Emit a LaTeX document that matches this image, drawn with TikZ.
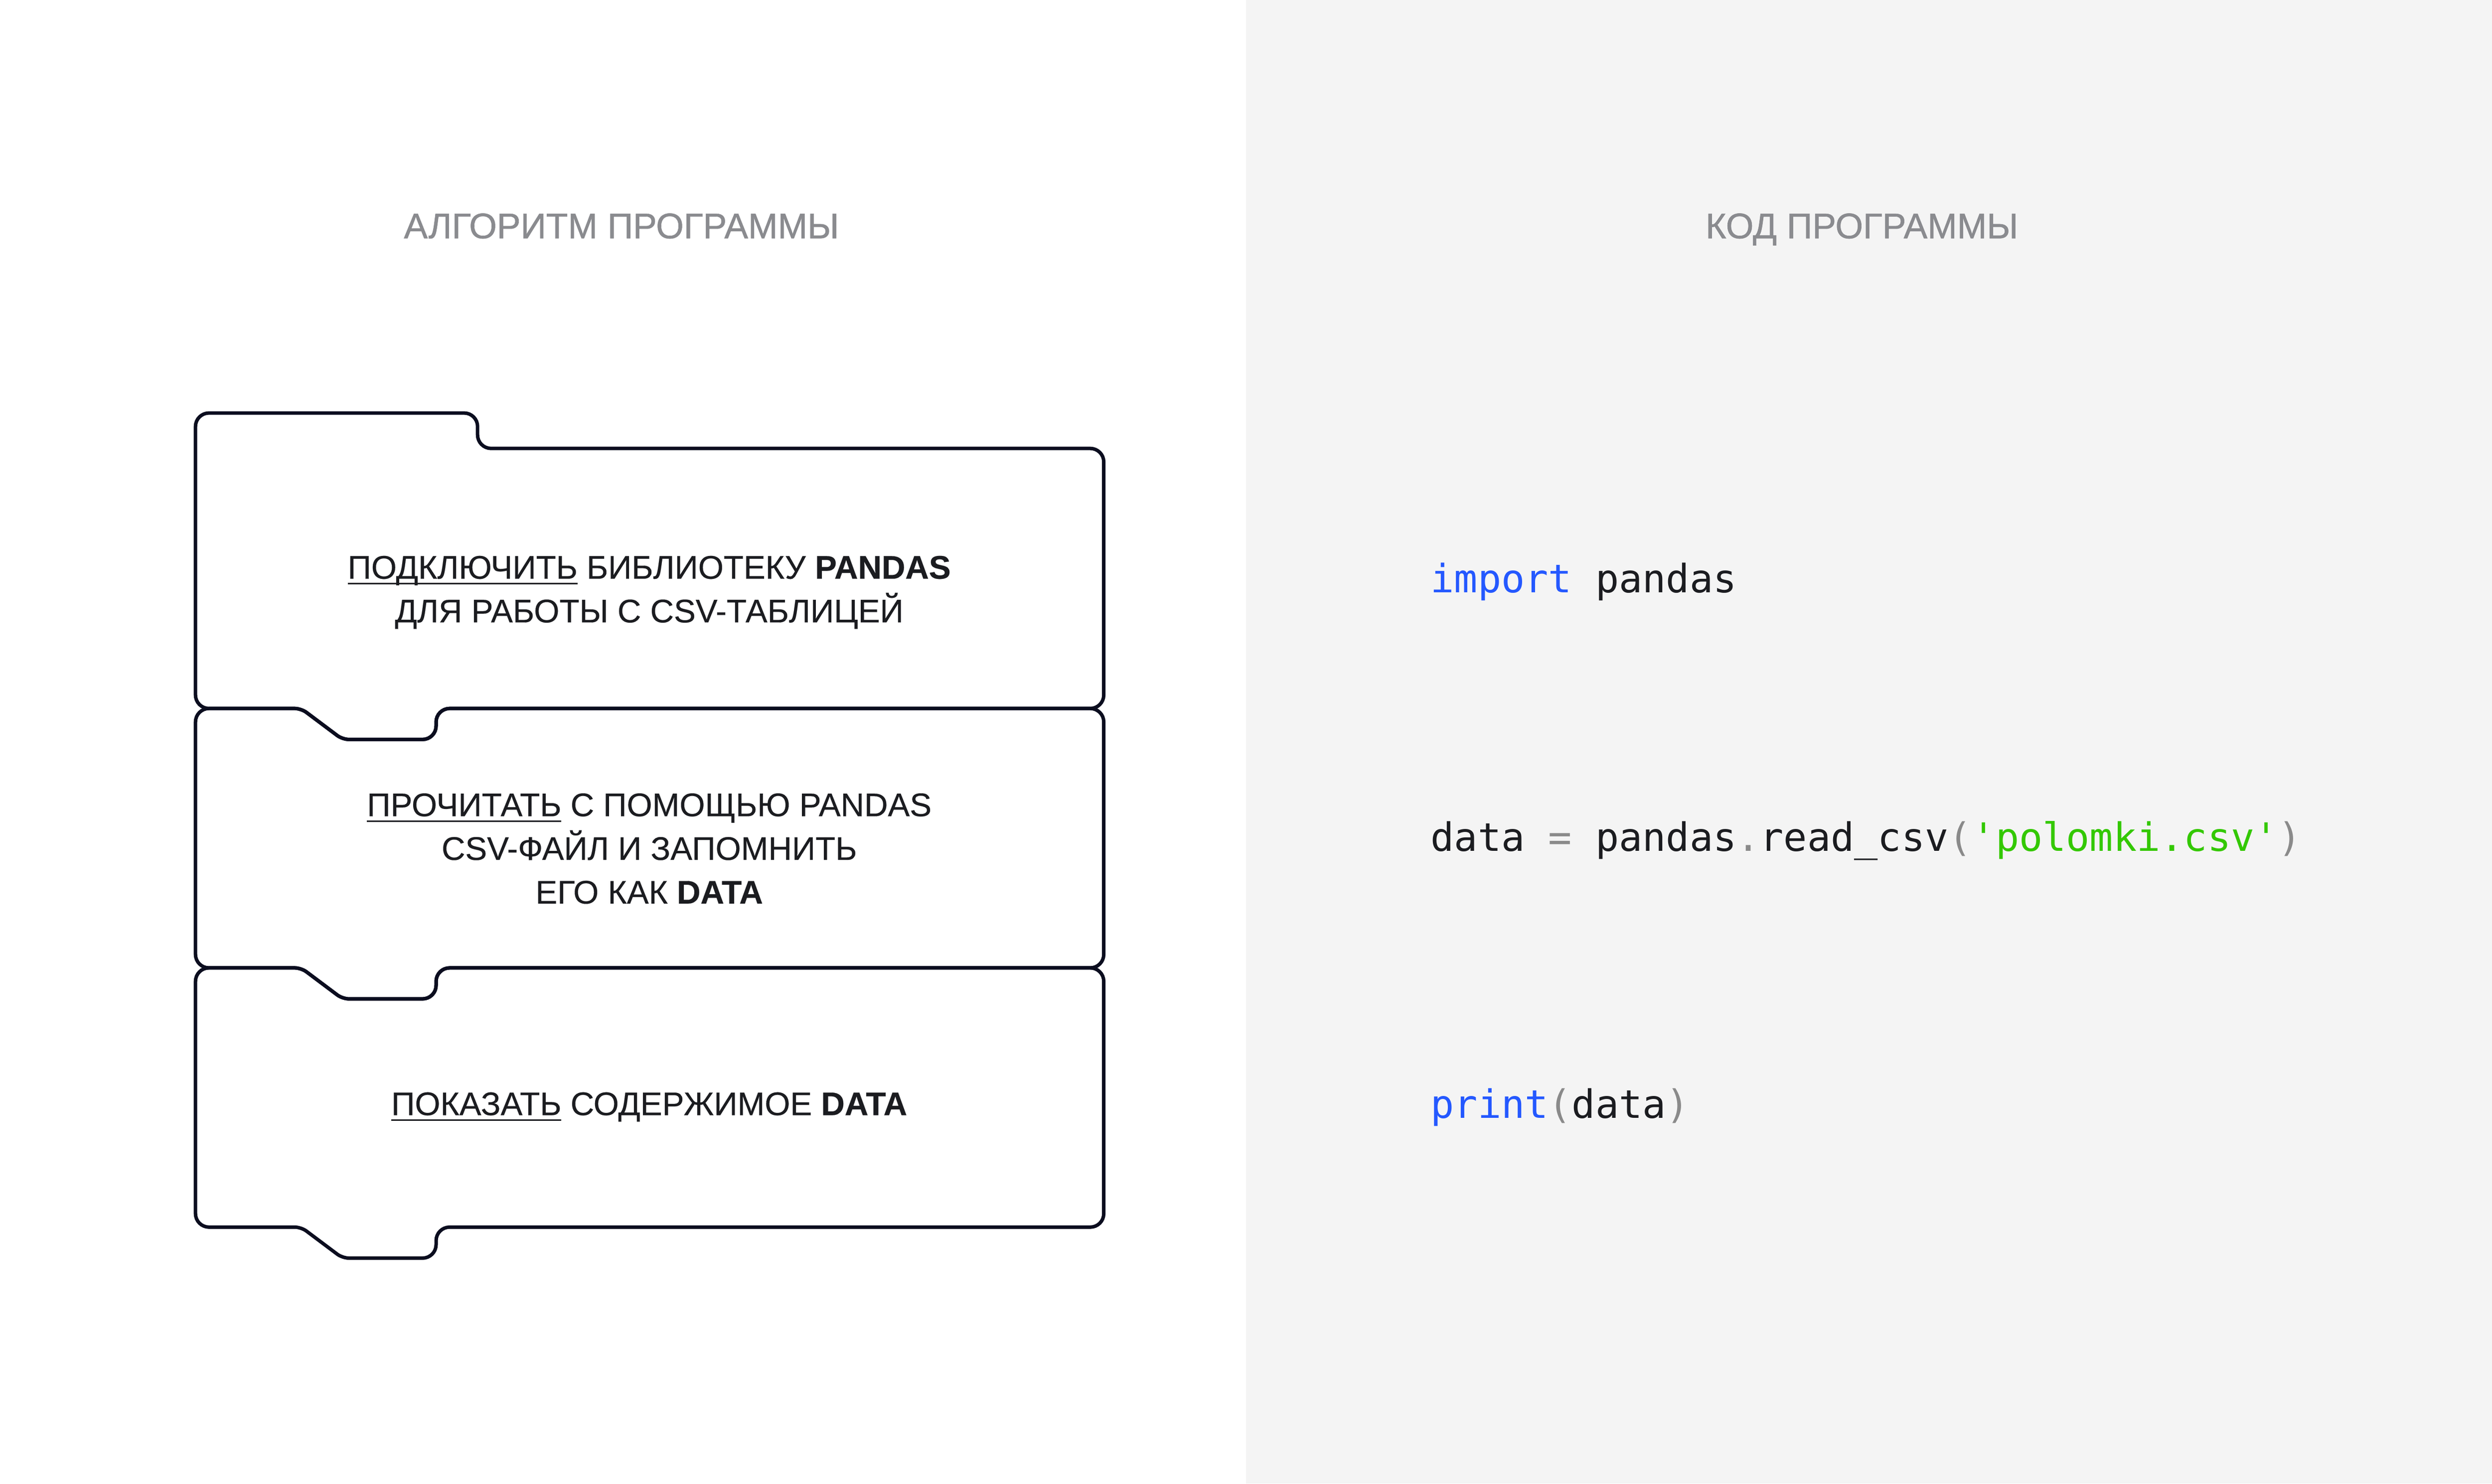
\documentclass[tikz,border=0pt]{standalone}
\usepackage{fontspec}
\setmainfont{Liberation Sans}[FakeBold=0.3]
\newfontfamily\headfont{Liberation Sans}[FakeBold=0.9]
\newfontfamily\codefont{DejaVu Sans Mono}
\usepackage{tikz}
\definecolor{ink}{HTML}{0B0D1F}
\definecolor{txt}{HTML}{1B1C20}
\definecolor{headgray}{HTML}{8A8B8F}
\definecolor{panel}{HTML}{F4F4F4}
\definecolor{kwblue}{HTML}{2458FF}
\definecolor{strgreen}{HTML}{33C800}
\definecolor{punct}{HTML}{8A8A8A}
\newcommand{\uword}[1]{\leavevmode\setbox0\hbox{#1}\rlap{\rule[-3.7pt]{\wd0}{1.1pt}}\box0\relax}

\begin{document}
\begin{tikzpicture}[x=1pt, y=-1pt,
	block/.style={draw=ink, line width=2.2pt, line join=round},
	head/.style={font=\headfont\fontsize{22.4}{26}\selectfont, text=headgray, anchor=base, inner sep=0pt},
	stepnode/.style={font=\fontsize{20.6}{27.5}\selectfont, text=txt, align=center, anchor=base, inner sep=0pt},
	code/.style={font=\codefont\fontsize{24.6}{30}\selectfont, text=txt, anchor=base west, inner sep=0pt}]
	\useasboundingbox (0,0) rectangle (1568,934);
	\fill[panel] (784,0) rectangle (1568,934);

	\node[head] (alg) at (391,150)    {АЛГОРИТМ ПРОГРАММЫ};
	\node[head] (kod) at (1171.5,150) {КОД ПРОГРАММЫ};

	% first block has a tab on top, the others take the notch of the block above
	\draw[block, rounded corners=8.5pt] (123,350) -- (123,260) -- (300.5,260) -- (300.5,282.3) -- (694.5,282.3) -- (694.5,446) -- (274.4,446) -- (274.4,465.5) [rounded corners=4pt] -- (215.5,465.5) -- (189.5,446) [rounded corners=8.5pt] -- (123,446) -- cycle;
	\foreach \t/\b in {446/609.3, 609.3/772.5}
		\draw[block, rounded corners=8.5pt] (123,\t+60) -- (123,\t) [rounded corners=4pt] -- (189.5,\t) -- (215.5,\t+19.5) [rounded corners=8.5pt] -- (274.4,\t+19.5) -- (274.4,\t) -- (694.5,\t) -- (694.5,\b) -- (274.4,\b) -- (274.4,\b+19.5) [rounded corners=4pt] -- (215.5,\b+19.5) -- (189.5,\b) [rounded corners=8.5pt] -- (123,\b) -- cycle;

	% base anchor of a multi-line node sits on its last line
	\node[stepnode] (load)  at (408.5,391.8) {\uword{ПОДКЛЮЧИТЬ} БИБЛИОТЕКУ \textbf{PANDAS}\\ДЛЯ РАБОТЫ С CSV-ТАБЛИЦЕЙ};
	\node[stepnode] (read)  at (408.5,568.8) {\uword{ПРОЧИТАТЬ} С ПОМОЩЬЮ PANDAS\\CSV-ФАЙЛ И ЗАПОМНИТЬ\\ЕГО КАК \textbf{DATA}};
	\node[stepnode] (show)  at (408.5,702)   {\uword{ПОКАЗАТЬ} СОДЕРЖИМОЕ \textbf{DATA}};

	\node[code] (imp) at (900,373)   {\textcolor{kwblue}{import} pandas};
	\node[code] (rd)  at (900,535.8) {data \textcolor{punct}{=} pandas\textcolor{punct}{.}read\_csv\textcolor{punct}{(}\textcolor{strgreen}{\textquotesingle polomki.csv\textquotesingle}\textcolor{punct}{)}};
	\node[code] (pr)  at (900,704)   {\textcolor{kwblue}{print}\textcolor{punct}{(}data\textcolor{punct}{)}};
\end{tikzpicture}
\end{document}
